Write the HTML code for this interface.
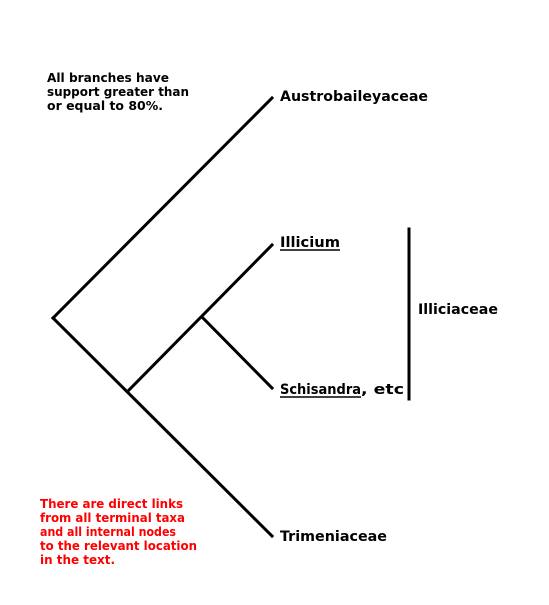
<!DOCTYPE html>
<html><head><meta charset="utf-8"><style>
html,body{margin:0;padding:0;background:#fff;}
svg{display:block;}
text{font-family:"DejaVu Sans",Verdana,sans-serif;font-weight:bold;}
</style></head><body>
<svg width="549" height="605" viewBox="0 0 549 605" xmlns="http://www.w3.org/2000/svg">
<g stroke="#000" stroke-width="3" fill="none" stroke-linecap="square">
<line x1="53" y1="318" x2="272" y2="98"/>
<line x1="53" y1="318" x2="272" y2="536"/>
<line x1="128" y1="391" x2="272" y2="245"/>
<line x1="203" y1="318" x2="272" y2="388"/>
<line x1="409" y1="229" x2="409" y2="399"/>
</g>
<g font-size="12" fill="#000">
<text x="47" y="82" textLength="122" lengthAdjust="spacingAndGlyphs">All branches have</text>
<text x="47" y="96" textLength="142" lengthAdjust="spacingAndGlyphs">support greater than</text>
<text x="47" y="110" textLength="116" lengthAdjust="spacingAndGlyphs">or equal to 80%.</text>
</g>
<g font-size="12" fill="#ff0000">
<text x="40" y="508" textLength="143" lengthAdjust="spacingAndGlyphs">There are direct links</text>
<text x="40" y="522" textLength="145" lengthAdjust="spacingAndGlyphs">from all terminal taxa</text>
<text x="40" y="536" textLength="136" lengthAdjust="spacingAndGlyphs">and all internal nodes</text>
<text x="40" y="550" textLength="157" lengthAdjust="spacingAndGlyphs">to the relevant location</text>
<text x="40" y="564" textLength="75" lengthAdjust="spacingAndGlyphs">in the text.</text>
</g>
<g font-size="14.5" fill="#000">
<text x="280" y="101" textLength="148" lengthAdjust="spacingAndGlyphs">Austrobaileyaceae</text>
<text x="280" y="247" textLength="60" lengthAdjust="spacingAndGlyphs">Illicium</text>
<line x1="280" y1="250" x2="340" y2="250" stroke="#000" stroke-width="1.5"/>
<text x="280" y="394" textLength="81" lengthAdjust="spacingAndGlyphs">Schisandra</text>
<line x1="280" y1="397" x2="361" y2="397" stroke="#000" stroke-width="1.5"/>
<text x="361" y="394" textLength="43" lengthAdjust="spacingAndGlyphs">, etc</text>
<text x="418" y="314" textLength="80" lengthAdjust="spacingAndGlyphs">Illiciaceae</text>
<text x="280" y="541" textLength="107" lengthAdjust="spacingAndGlyphs">Trimeniaceae</text>
</g>
</svg>
</body></html>
